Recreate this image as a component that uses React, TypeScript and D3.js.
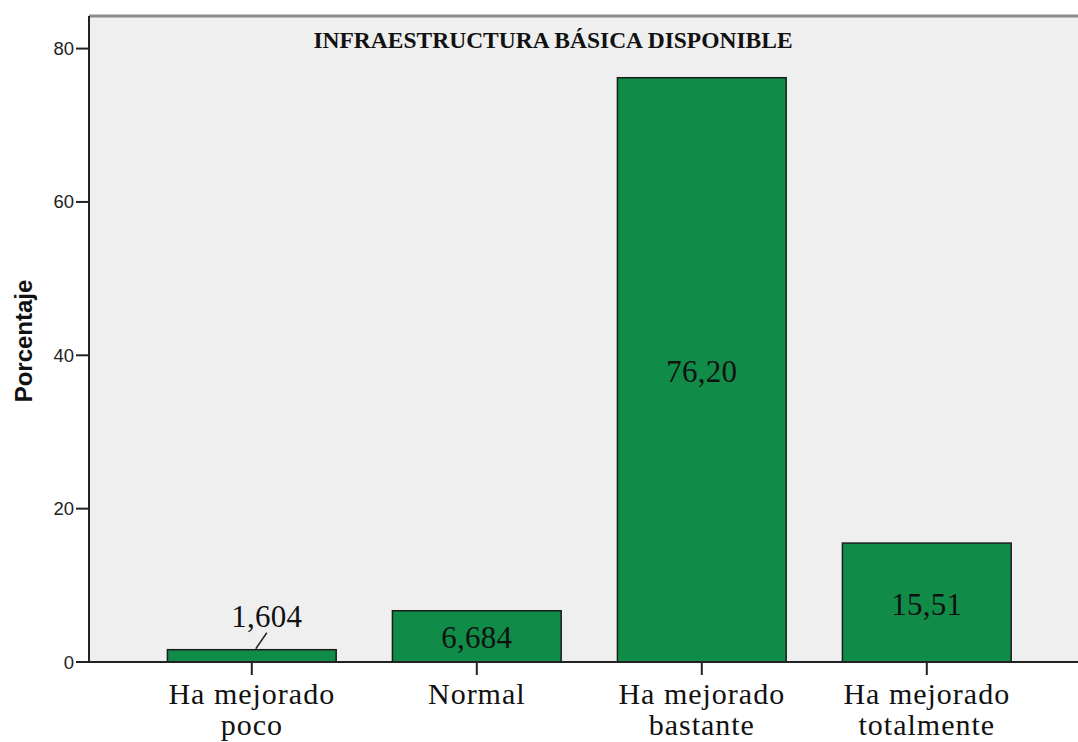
import React from "react";
import * as d3 from "d3";

const categories = ["Ha mejorado poco", "Normal", "Ha mejorado bastante", "Ha mejorado totalmente"];
const categoryLines = [["Ha mejorado", "poco"], ["Normal"], ["Ha mejorado", "bastante"], ["Ha mejorado", "totalmente"]];
const values = [1.604, 6.684, 76.2, 15.51];
const valueLabels = ["1,604", "6,684", "76,20", "15,51"];
const yTicks = [0, 20, 40, 60, 80];
const title = "INFRAESTRUCTURA BÁSICA DISPONIBLE";
const yTitle = "Porcentaje";

const W = 1078;
const H = 742;
const plotLeft = 89;
const plotTop = 16;
const plotBottom = 662;
const plotRight = 1078;

export default function App() {
  const x = d3.scaleBand<string>().domain(categories).range([139.3, 1039.3]).paddingInner(0.25).paddingOuter(0.125);
  const y = d3.scaleLinear().domain([0, 84.25]).range([plotBottom, plotTop]);
  const serif = "'Liberation Serif', 'Times New Roman', serif";
  const sans = "'Liberation Sans', Arial, sans-serif";
  return (
    <svg width={W} height={H} style={{ position: "absolute", left: 0, top: 0, background: "#fff" }}>
      <rect x={plotLeft} y={plotTop} width={plotRight - plotLeft} height={plotBottom - plotTop} fill="#efefef" />
      <line x1={plotLeft} x2={plotRight} y1={plotTop} y2={plotTop} stroke="#8a8a8a" strokeWidth={3} />
      <text x={553} y={48} textAnchor="middle" fontFamily={serif} fontWeight="bold" fontSize={23.5} fill="#111">{title}</text>
      {categories.map((c, i) => {
        const bx = x(c)!;
        const bw = x.bandwidth();
        const top = y(values[i]);
        return (
          <rect key={c} x={bx} y={top} width={bw} height={plotBottom - top} fill="#118b48" stroke="#1c1c1c" strokeWidth={1.5} />
        );
      })}
      {categories.map((c, i) => {
        const cx = x(c)! + x.bandwidth() / 2;
        const top = y(values[i]);
        const h = plotBottom - top;
        if (h < 25) {
          return (
            <g key={c}>
              <line x1={cx + 4} y1={top - 1} x2={cx + 15} y2={top - 17} stroke="#222" strokeWidth={1.5} />
              <text x={cx + 15} y={627} textAnchor="middle" fontFamily={serif} fontSize={31} letterSpacing={0.3} fill="#111">{valueLabels[i]}</text>
            </g>
          );
        }
        return (
          <text key={c} x={cx} y={(top + plotBottom) / 2 + 12} textAnchor="middle" fontFamily={serif} fontSize={31} letterSpacing={0.3} fill="#111">{valueLabels[i]}</text>
        );
      })}
      <line x1={plotLeft} x2={plotLeft} y1={plotTop} y2={plotBottom} stroke="#222" strokeWidth={2} />
      <line x1={plotLeft} x2={plotRight} y1={plotBottom} y2={plotBottom} stroke="#222" strokeWidth={2} />
      {yTicks.map((t) => (
        <g key={t}>
          <line x1={76} x2={plotLeft} y1={y(t)} y2={y(t)} stroke="#222" strokeWidth={2} />
          <text x={74} y={y(t) + 6.5} textAnchor="end" fontFamily={sans} fontSize={18.5} fill="#222">{t}</text>
        </g>
      ))}
      {categories.map((c, i) => {
        const cx = x(c)! + x.bandwidth() / 2;
        return (
          <g key={c}>
            <line x1={cx} x2={cx} y1={plotBottom} y2={675} stroke="#222" strokeWidth={2} />
            {categoryLines[i].map((l, j) => (
              <text key={j} x={cx} y={704 + j * 31} textAnchor="middle" fontFamily={serif} fontSize={30} letterSpacing={1} fill="#111">{l}</text>
            ))}
          </g>
        );
      })}
      <text transform={`translate(32,341) rotate(-90)`} textAnchor="middle" fontFamily={sans} fontWeight="bold" fontSize={24} fill="#111">{yTitle}</text>
    </svg>
  );
}
